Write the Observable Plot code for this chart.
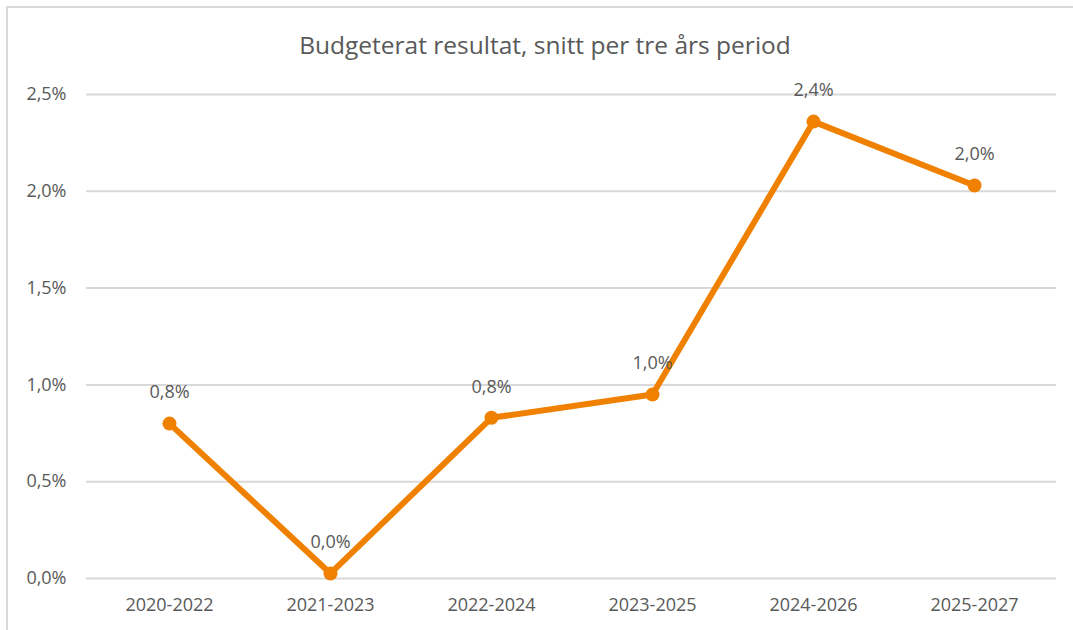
<!DOCTYPE html>
<html>
<head>
<meta charset="utf-8">
<script src="https://cdn.jsdelivr.net/npm/d3@7"></script>
<script src="https://cdn.jsdelivr.net/npm/@observablehq/plot@0.6"></script>
<style>
  html, body { margin: 0; padding: 0; background: #fff; }
  #wrap { position: relative; width: 1073px; height: 630px; overflow: hidden; font-family: "Open Sans", "Noto Sans", sans-serif; }
  #frame { position: absolute; left: 6px; top: 6px; width: 1100px; height: 700px; border-top: 2px solid #d9d9d9; border-left: 2px solid #d9d9d9; box-sizing: border-box; }
  #title { position: absolute; left: 0; top: 29px; width: 1090px; text-align: center; font-size: 24.5px; color: #595959; line-height: 32px; }
  #chart { position: absolute; left: 0; top: 70px; }
</style>
</head>
<body>
<div id="wrap">
  <div id="frame"></div>
  <div id="title">Budgeterat resultat, snitt per tre års period</div>
  <div id="chart"></div>
</div>
<script>
const periods = ["2020-2022", "2021-2023", "2022-2024", "2023-2025", "2024-2026", "2025-2027"];
const values = [0.80, 0.026, 0.83, 0.95, 2.36, 2.03];
const labels = ["0,8%", "0,0%", "0,8%", "1,0%", "2,4%", "2,0%"];
const yTicks = [0, 0.5, 1.0, 1.5, 2.0, 2.5];

const data = periods.map((p, i) => ({period: p, value: values[i], label: labels[i]}));
const fmt = v => v.toFixed(1).replace(".", ",") + "%";
const orange = "#f08000";
const gray = "#595959";

const chart = Plot.plot({
  width: 1073,
  height: 560,
  marginTop: 24,
  marginBottom: 52,
  marginLeft: 86,
  marginRight: 17,
  style: {fontFamily: "'Open Sans', 'Noto Sans', sans-serif", fontSize: "18px", color: gray, background: "transparent"},
  x: {type: "point", domain: periods, padding: 0.5, label: null},
  y: {domain: [0, 2.5], label: null},
  marks: [
    Plot.gridY(yTicks, {stroke: "#d9d9d9", strokeOpacity: 1, strokeWidth: 2}),
    Plot.axisY(yTicks, {tickSize: 0, tickPadding: 20, tickFormat: fmt, fill: gray, fontSize: 18, label: null}),
    Plot.axisX({tickSize: 0, tickPadding: 20, fill: gray, fontSize: 18, label: null}),
    Plot.line(data, {x: "period", y: "value", stroke: orange, strokeWidth: 6, strokeLinejoin: "round", strokeLinecap: "round"}),
    Plot.dot(data, {x: "period", y: "value", r: 7, fill: orange, stroke: "none"}),
    Plot.text(data, {x: "period", y: "value", text: "label", dy: -31, fill: gray, fontSize: 18})
  ]
});
document.getElementById("chart").appendChild(chart);
</script>
</body>
</html>
